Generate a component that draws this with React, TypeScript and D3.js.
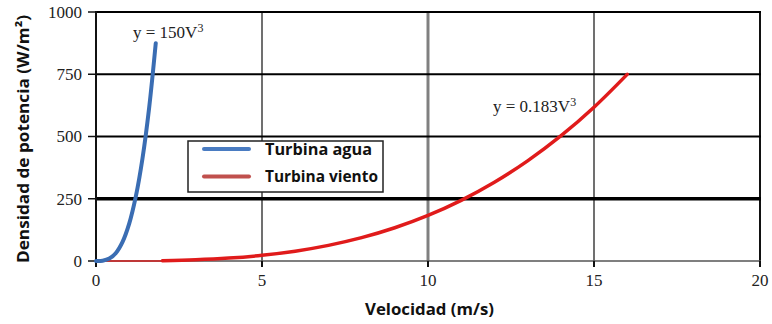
import React from "react";
import * as d3 from "d3";

// Speed samples (m/s) and power density (W/m²) for each turbine type
const waterSpeed = [0, 0.2, 0.4, 0.6, 0.8, 1.0, 1.2, 1.4, 1.6, 1.8];
const waterPower = [0, 1.2, 9.6, 32.4, 76.8, 150, 259.2, 411.6, 614.4, 874.8];

const windSpeed = [2, 3, 4, 5, 6, 7, 8, 9, 10, 11, 12, 13, 14, 15, 16];
const windPower = [1.46, 4.94, 11.71, 22.88, 39.53, 62.77, 93.7, 133.41, 183.0, 243.57, 316.22, 402.05, 502.15, 617.63, 749.57];

const xTicks = [0, 5, 10, 15, 20];
const yTicks = [0, 250, 500, 750, 1000];

const legendNames = ["Turbina agua", "Turbina viento"];
const waterLabel = "y = 150V";
const windLabel = "y = 0.183V";

const W = 772;
const H = 324;
const plot = { left: 96, right: 760, top: 12, bottom: 261 };

export default function App() {
  const x = d3.scaleLinear().domain([0, 20]).range([plot.left, plot.right]);
  const y = d3.scaleLinear().domain([0, 1000]).range([plot.bottom, plot.top]);

  const line = d3
    .line<[number, number]>()
    .x((d) => x(d[0]))
    .y((d) => y(d[1]))
    .curve(d3.curveCatmullRom.alpha(0.5));

  const waterPts = waterSpeed.map((v, i) => [v, waterPower[i]] as [number, number]);
  const windPts = windSpeed.map((v, i) => [v, windPower[i]] as [number, number]);

  const serif = "'Liberation Serif', 'DejaVu Serif', serif";
  const sans = "'Open Sans', 'Liberation Sans', sans-serif";

  const gridStyle = (v: number) => {
    if (v === 20) return { stroke: "#111", w: 2 };
    if (v === 10) return { stroke: "#808080", w: 3 };
    return { stroke: "#707070", w: 2 };
  };
  const hGridWidth = (v: number) => (v === 250 ? 3.5 : 2);
  const legendWidths = [107, 113];

  return (
    <svg
      width={W}
      height={H}
      style={{ position: "absolute", left: 0, top: 0, background: "#fff" }}
    >
      {/* vertical grid */}
      {xTicks
        .filter((v) => v > 0)
        .map((v) => {
          const s = gridStyle(v);
          return (
            <line
              key={"vx" + v}
              x1={x(v)}
              x2={x(v)}
              y1={plot.top}
              y2={plot.bottom}
              stroke={s.stroke}
              strokeWidth={s.w}
            />
          );
        })}
      {/* horizontal grid */}
      {yTicks
        .filter((v) => v > 0)
        .map((v) => (
          <line
            key={"hy" + v}
            x1={plot.left}
            x2={plot.right + 1}
            y1={y(v)}
            y2={y(v)}
            stroke="#000"
            strokeWidth={hGridWidth(v)}
          />
        ))}
      {/* x axis */}
      <line x1={plot.left} x2={plot.right + 1} y1={y(0)} y2={y(0)} stroke="#555" strokeWidth={1.5} />
      {xTicks.map((v) => (
        <line key={"xt" + v} x1={x(v)} x2={x(v)} y1={y(0)} y2={y(0) + 6} stroke="#111" strokeWidth={2} />
      ))}
      {xTicks.map((v) => (
        <text
          key={"xl" + v}
          x={x(v)}
          y={y(0) + 25}
          textAnchor="middle"
          fontFamily={serif}
          fontSize={17}
          fill="#222"
        >
          {v}
        </text>
      ))}
      {/* y axis */}
      <line x1={plot.left} x2={plot.left} y1={plot.top - 1} y2={plot.bottom + 4} stroke="#111" strokeWidth={2} />
      {yTicks.map((v) => (
        <line key={"yt" + v} x1={plot.left - 8} x2={plot.left} y1={y(v)} y2={y(v)} stroke="#111" strokeWidth={1.5} />
      ))}
      {yTicks.map((v) => (
        <text
          key={"yl" + v}
          x={plot.left - 14}
          y={y(v)}
          dy="0.35em"
          textAnchor="end"
          fontFamily={serif}
          fontSize={17}
          fill="#222"
        >
          {v}
        </text>
      ))}

      {/* low-speed segment of the wind series along the baseline */}
      <line x1={x(0)} x2={x(2)} y1={y(0)} y2={y(0)} stroke="#d42020" strokeWidth={1.5} />
      <path d={line(windPts) ?? ""} fill="none" stroke="#e01b1b" strokeWidth={3.5} strokeLinecap="round" />
      <path d={line(waterPts) ?? ""} fill="none" stroke="#3a6db3" strokeWidth={4} strokeLinecap="round" />

      {/* equation labels */}
      <text x={133} y={38} fontFamily={serif} fontSize={17} fill="#222">
        {waterLabel}
        <tspan dy={-6} fontSize={12}>3</tspan>
      </text>
      <text x={493} y={112} fontFamily={serif} fontSize={17} fill="#222">
        {windLabel}
        <tspan dy={-6} fontSize={12}>3</tspan>
      </text>

      {/* legend */}
      <rect x={188} y={141} width={195} height={51} fill="#fff" stroke="#222" strokeWidth={1.5} />
      {legendNames.map((name, i) => {
        const ly = 149 + i * 27.5;
        return (
          <g key={name}>
            <line
              x1={204}
              x2={249}
              y1={ly}
              y2={ly}
              stroke={i === 0 ? "#4a7cc2" : "#c0504d"}
              strokeWidth={4}
              strokeLinecap="round"
            />
            <text
              x={265}
              y={ly}
              dy="0.35em"
              fontFamily={sans}
              fontWeight="bold"
              fontSize={16}
              fill="#111"
              textLength={legendWidths[i]}
              lengthAdjust="spacingAndGlyphs"
            >
              {name}
            </text>
          </g>
        );
      })}

      {/* axis titles */}
      <text
        x={365}
        y={315}
        fontFamily={sans}
        fontWeight="bold"
        fontSize={16}
        fill="#111"
        textLength={129}
        lengthAdjust="spacingAndGlyphs"
      >
        Velocidad (m/s)
      </text>
      <text
        transform="translate(29,263) rotate(-90)"
        fontFamily={sans}
        fontWeight="bold"
        fontSize={16}
        fill="#111"
        textLength={248}
        lengthAdjust="spacingAndGlyphs"
      >
        Densidad de potencia (W/m²)
      </text>
    </svg>
  );
}
